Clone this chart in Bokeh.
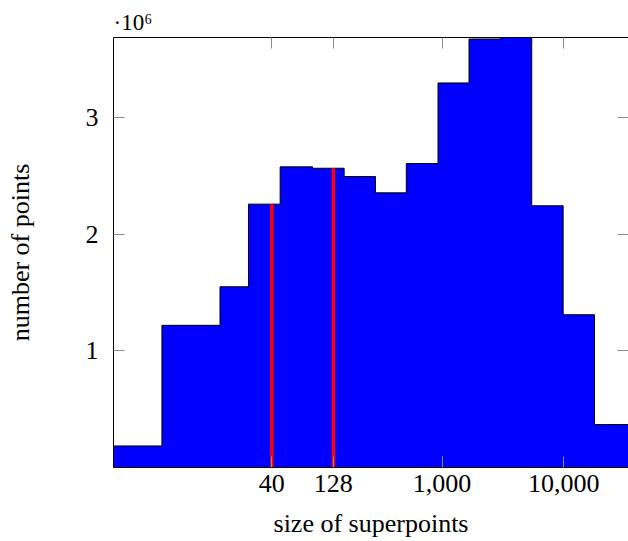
import numpy as np
from bokeh.plotting import figure
from bokeh.models import (LogAxis, LinearAxis, FixedTicker, NumeralTickFormatter,
                          CustomJSTickFormatter, Range1d)
from bokeh.embed import file_html
from bokeh.resources import INLINE

# ---- data ----
bin_edges = [1, 5, 15, 25.7, 46.8, 86.3, 157, 284, 509, 927, 1667, 3013, 5458, 9887, 17890, 40000]
counts_millions = [0.185, 1.22, 1.551, 2.26, 2.58, 2.568, 2.497, 2.357, 2.608,
                   3.30, 3.677, 3.71, 2.246, 1.311, 0.369]
marker_sizes = [40, 128]
x_ticks = [40, 128, 1000, 10000]
y_ticks = [1, 2, 3]
x_label = "size of superpoints"
y_label = "number of points"
scale_text = "·10⁶"

SERIF = "Liberation Serif"

# step polygon of the histogram
xs = [bin_edges[0]]
ys = [0.0]
for i, h in enumerate(counts_millions):
    xs += [bin_edges[i], bin_edges[i + 1]]
    ys += [h, h]
xs.append(bin_edges[-1])
ys.append(0.0)

idx = np.searchsorted(bin_edges, marker_sizes) - 1
marker_heights = [counts_millions[i] for i in idx]

p = figure(width=628, height=541, x_axis_type="log",
           x_range=Range1d(2, 34050), y_range=Range1d(0, 3.69),
           output_backend="svg", toolbar_location=None,
           min_border_left=113, min_border_top=37, min_border_right=0, min_border_bottom=74)
p.outline_line_color = None
p.grid.visible = False
p.background_fill_color = "white"
p.border_fill_color = "white"

p.title.text = scale_text
p.title.text_font = SERIF
p.title.text_font_size = "23px"
p.title.text_font_style = "normal"
p.title.text_color = "black"
p.title.align = "left"
p.title.standoff = 5
p.title.offset = 0

p.patch(xs, ys, fill_color="#0000ff", line_color="black", line_width=1)
p.segment(x0=marker_sizes, y0=[0] * len(marker_sizes), x1=marker_sizes, y1=marker_heights,
          line_color="#ff0000", line_width=3.5)

TICK_COLOR = "#8c8c8c"

xa = p.xaxis[0]
xa.ticker = FixedTicker(ticks=x_ticks)
xa.formatter = NumeralTickFormatter(format="0,0")
xa.major_tick_in = 11
xa.major_tick_out = 0
xa.minor_tick_line_color = None
xa.major_tick_line_color = TICK_COLOR
xa.axis_line_color = "black"
xa.major_label_text_font = SERIF
xa.major_label_text_font_size = "26px"
xa.major_label_text_color = "black"
xa.major_label_standoff = 7
xa.axis_label = x_label
xa.axis_label_text_font = SERIF
xa.axis_label_text_font_size = "26px"
xa.axis_label_text_font_style = "normal"
xa.axis_label_text_color = "black"
xa.axis_label_standoff = 14

ya = p.yaxis[0]
ya.ticker = FixedTicker(ticks=y_ticks)
ya.major_tick_in = 11
ya.major_tick_out = 0
ya.minor_tick_line_color = None
ya.major_tick_line_color = TICK_COLOR
ya.axis_line_color = "black"
ya.major_label_text_font = SERIF
ya.major_label_text_font_size = "26px"
ya.major_label_text_color = "black"
ya.major_label_standoff = 15
ya.axis_label = y_label
ya.axis_label_text_font = SERIF
ya.axis_label_text_font_size = "26px"
ya.axis_label_text_font_style = "normal"
ya.axis_label_text_color = "black"
ya.axis_label_standoff = 48

blank = CustomJSTickFormatter(code="return ''")

top = LogAxis(ticker=FixedTicker(ticks=x_ticks), formatter=blank,
              major_label_text_font_size="0px",
              major_tick_in=11, major_tick_out=0, minor_tick_line_color=None,
              major_tick_line_color=TICK_COLOR, axis_line_color="black",
              major_label_standoff=0)
p.add_layout(top, "above")

right = LinearAxis(ticker=FixedTicker(ticks=y_ticks), formatter=blank,
                   major_label_text_font_size="0px",
                   major_tick_in=11, major_tick_out=0, minor_tick_line_color=None,
                   major_tick_line_color=TICK_COLOR, axis_line_color=None,
                   major_label_standoff=0)
p.add_layout(right, "right")

open("out.html", "w").write(file_html(p, INLINE))
